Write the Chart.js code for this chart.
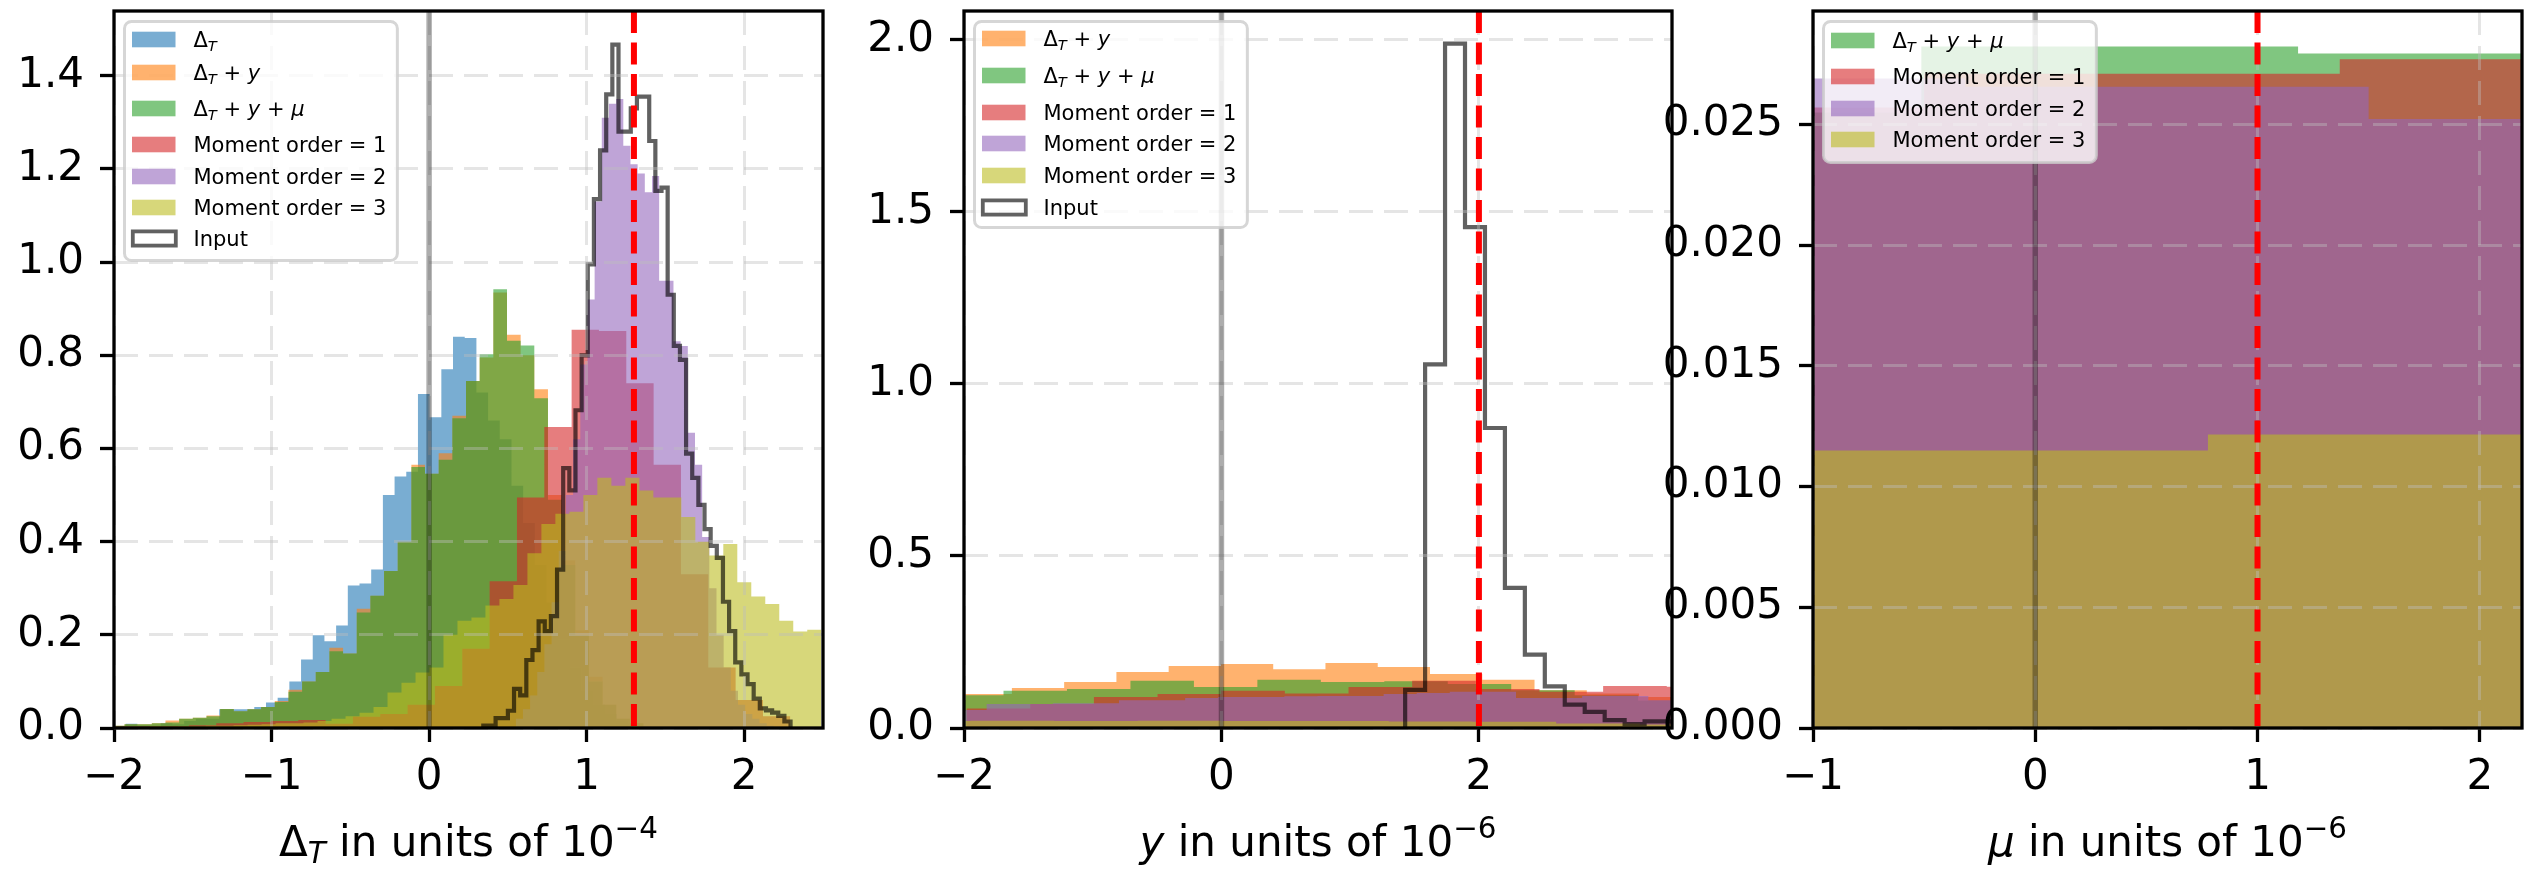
<!DOCTYPE html>
<html>
<head>
<meta charset="utf-8">
<script src="https://cdn.jsdelivr.net/npm/chart.js@4.4.1/dist/chart.umd.min.js"></script>
<style>
    body { margin: 0; background: #fff; overflow: hidden; }
    #fig { position: relative; width: 2534px; height: 869px; }
    canvas { position: absolute; top: 0; }
</style>
</head>
<body>
<div id="fig">
    <canvas id="c1" width="880" height="869" style="left:0px"></canvas>
    <canvas id="c2" width="860" height="869" style="left:860px"></canvas>
    <canvas id="c3" width="894" height="869" style="left:1640px"></canvas>
</div>
<script>
const FONT = "DejaVu Sans";

// ---------- panel 1 : Delta_T (units of 1e-4) ----------
const p1XTicks = [-2, -1, 0, 1, 2];
const p1YTicks = [0, 0.2, 0.4, 0.6, 0.8, 1.0, 1.2, 1.4];
const p1Truth = 1.3;
// bins are [first edge, bin width]
const p1BlueBins = [-2.0, 0.0742];
const p1Blue = [0.003, 0.009, 0.005, 0.005, 0.010, 0.008, 0.015, 0.020, 0.020, 0.040,
    0.040, 0.040, 0.045, 0.055, 0.065, 0.100, 0.147, 0.199, 0.186, 0.220,
    0.306, 0.310, 0.340, 0.500, 0.540, 0.550, 0.717, 0.667, 0.770, 0.840,
    0.837, 0.720, 0.660, 0.620, 0.520, 0.440, 0.350, 0.270, 0.190, 0.130,
    0.080, 0.050, 0.030, 0.015, 0.008, 0.004];
const p1OrangeBins = [-2.02, 0.0867];
const p1Orange = [0.005, 0.008, 0.008, 0.010, 0.016, 0.020, 0.022, 0.027, 0.041, 0.036,
    0.040, 0.045, 0.058, 0.082, 0.100, 0.120, 0.172, 0.160, 0.256, 0.284,
    0.337, 0.400, 0.565, 0.546, 0.590, 0.670, 0.745, 0.795, 0.935, 0.844,
    0.800, 0.727, 0.500, 0.360, 0.210, 0.110, 0.050, 0.020, 0.010];
const p1GreenBins = [-2.02, 0.0867];
const p1Green = [0.005, 0.008, 0.008, 0.010, 0.012, 0.020, 0.022, 0.025, 0.041, 0.036,
    0.040, 0.045, 0.056, 0.078, 0.100, 0.120, 0.165, 0.160, 0.248, 0.284,
    0.337, 0.400, 0.560, 0.546, 0.576, 0.665, 0.745, 0.802, 0.942, 0.831,
    0.821, 0.708, 0.490, 0.350, 0.200, 0.100, 0.050, 0.020, 0.010];
const p1RedBins = [-2.045, 0.1735];
const p1Red = [0.003, 0.003, 0.004, 0.006, 0.010, 0.013, 0.015, 0.017, 0.009, 0.024,
    0.030, 0.050, 0.090, 0.170, 0.315, 0.495, 0.646, 0.855, 0.852, 0.740,
    0.565, 0.330, 0.130, 0.060, 0.025];
const p1PurpleBins = [0.55, 0.0455];
const p1Purple = [0.020, 0.040, 0.070, 0.120, 0.180, 0.270, 0.380, 0.500, 0.620, 0.780,
    0.920, 1.130, 1.310, 1.340, 1.350, 1.250, 1.210, 1.190, 1.150, 1.185,
    0.960, 0.960, 0.830, 0.820, 0.634, 0.565, 0.410, 0.300, 0.200, 0.130,
    0.080, 0.050, 0.030, 0.020, 0.010, 0.005];
const p1OliveBins = [-2.04, 0.0888];
const p1Olive = [0.002, 0.002, 0.002, 0.003, 0.003, 0.004, 0.004, 0.005, 0.005, 0.006,
    0.007, 0.008, 0.010, 0.010, 0.012, 0.015, 0.020, 0.025, 0.033, 0.045,
    0.076, 0.097, 0.119, 0.130, 0.200, 0.230, 0.237, 0.263, 0.277, 0.307,
    0.375, 0.438, 0.460, 0.464, 0.500, 0.537, 0.520, 0.537, 0.510, 0.495,
    0.495, 0.453, 0.400, 0.370, 0.395, 0.313, 0.282, 0.266, 0.230, 0.207,
    0.211];
const p1InputBins = [0.344, 0.039];
const p1Input = [0.005, 0.005, 0.021, 0.021, 0.037, 0.084, 0.070, 0.146, 0.167, 0.229,
    0.208, 0.240, 0.340, 0.558, 0.510, 0.682, 0.800, 0.995, 1.135, 1.240,
    1.360, 1.467, 1.280, 1.280, 1.330, 1.355, 1.355, 1.260, 1.153, 1.160,
    0.930, 0.820, 0.790, 0.589, 0.537, 0.479, 0.427, 0.391, 0.365, 0.271,
    0.208, 0.141, 0.115, 0.094, 0.063, 0.042, 0.038, 0.033, 0.026, 0.014];

// ---------- panel 2 : y (units of 1e-6) ----------
const p2XTicks = [-2, 0, 2];
const p2YTicks = [0, 0.5, 1.0, 1.5, 2.0];
const p2Truth = 2;
const p2OrangeBins = [-2.034, 0.406];
const p2Orange = [0.099, 0.116, 0.134, 0.163, 0.180, 0.186, 0.171, 0.189, 0.177, 0.157, 0.140, 0.110, 0.100, 0.090];
const p2GreenBins = [-2.186, 0.493];
const p2Green = [0.095, 0.108, 0.113, 0.137, 0.119, 0.140, 0.134, 0.136, 0.128, 0.110, 0.095, 0.080];
const p2RedBins = [-1.98, 0.4945];
const p2Red = [0.057, 0.070, 0.090, 0.099, 0.108, 0.100, 0.119, 0.137, 0.113, 0.105, 0.122, 0.120];
const p2PurpleBins = [-2.081, 0.257];
const p2Purple = [0.052, 0.070, 0.070, 0.072, 0.072, 0.081, 0.081, 0.087, 0.090, 0.090, 0.092,
    0.093, 0.093, 0.099, 0.102, 0.105, 0.105, 0.087, 0.087, 0.093, 0.093, 0.081];
const p2OliveBins = [-2.6, 0.65];
const p2Olive = [0.020, 0.021, 0.020, 0.021, 0.020, 0.020, 0.019, 0.018, 0.013, 0.010];
const p2InputBins = [1.427, 0.155];
const p2Input = [0.111, 1.057, 1.989, 1.456, 0.872, 0.407, 0.213, 0.121, 0.068, 0.047, 0.023, 0.011, 0.019, 0.019];

// ---------- panel 3 : mu (units of 1e-6) ----------
const p3XTicks = [-1, 0, 1, 2];
const p3YTicks = [0, 0.005, 0.010, 0.015, 0.020, 0.025];
const p3Truth = 1;
const p3GreenBins = [-1.36, 0.8475];
const p3Green = [0.0255, 0.02823, 0.02823, 0.02794, 0.02794];
const p3RedBins = [-1.435, 0.935];
const p3Red = [0.0257, 0.0271, 0.0271, 0.0277];
const p3PurpleBins = [-1.2225, 0.9075];
const p3Purple = [0.0269, 0.02656, 0.02656, 0.02523];
const p3OliveBins = [-1.1, 1.877];
const p3Olive = [0.01149, 0.01216];

const COL = {
    blue: "rgba(31,119,180,0.6)",
    orange: "rgba(255,127,14,0.6)",
    green: "rgba(44,160,44,0.6)",
    red: "rgba(214,39,40,0.6)",
    purple: "rgba(148,103,189,0.6)",
    olive: "rgba(188,189,34,0.6)",
    input: "rgba(0,0,0,0.62)"
};
const GRID = "rgba(190,190,190,0.4)";

// legend labels as [text, kind]: "" upright, "i" italic, "s" subscript, "p" superscript
const L_DT = [["\u0394", ""], ["T", "s"]];
const L_DTY = [["\u0394", ""], ["T", "s"], [" + ", ""], ["y", "i"]];
const L_DTYM = [["\u0394", ""], ["T", "s"], [" + ", ""], ["y", "i"], [" + ", ""], ["\u03bc", "i"]];
const L_M1 = [["Moment order = 1", ""]];
const L_M2 = [["Moment order = 2", ""]];
const L_M3 = [["Moment order = 3", ""]];
const L_IN = [["Input", ""]];

function stepPoints(bins, heights) {
    const start = bins[0], w = bins[1];
    const pts = [{ x: start, y: 0 }];
    heights.forEach((h, i) => pts.push({ x: start + i * w, y: h }));
    pts.push({ x: start + heights.length * w, y: 0 });
    return pts;
}

function fillSet(bins, heights, color) {
    return {
        data: stepPoints(bins, heights),
        stepped: "before",
        fill: "origin",
        backgroundColor: color,
        borderColor: "rgba(0,0,0,0)",
        borderWidth: 0,
        pointRadius: 0
    };
}

function outlineSet(bins, heights) {
    return {
        data: stepPoints(bins, heights),
        stepped: "before",
        fill: false,
        borderColor: COL.input,
        borderWidth: 4.2,
        borderJoinStyle: "miter",
        pointRadius: 0
    };
}

function fmtTick(v, dec) {
    return (v < 0 ? "\u2212" : "") + Math.abs(v).toFixed(dec);
}

function mathFont(kind, size) {
    return (kind === "i" || kind === "s" ? "italic " : "") + size + "px '" + FONT + "'";
}

function measureMath(ctx, parts, size) {
    let total = 0;
    parts.forEach(p => {
        ctx.font = mathFont(p[1], (p[1] === "s" || p[1] === "p") ? size * 0.7 : size);
        total += ctx.measureText(p[0]).width;
    });
    return total;
}

function drawMath(ctx, parts, x, y, size, align) {
    const total = measureMath(ctx, parts, size);
    let cx = align === "center" ? x - total / 2 : x;
    ctx.textAlign = "left";
    ctx.textBaseline = "alphabetic";
    parts.forEach(p => {
        const small = p[1] === "s" || p[1] === "p";
        ctx.font = mathFont(p[1], small ? size * 0.7 : size);
        const dy = p[1] === "s" ? 0.17 * size : (p[1] === "p" ? -0.42 * size : 0);
        ctx.fillText(p[0], cx, y + dy);
        cx += ctx.measureText(p[0]).width;
    });
}

function drawLegend(ctx, left, top, items, rows, height) {
    const w = 69 + Math.max(...items.map(it => measureMath(ctx, it.label, 21))) + 11;
    ctx.beginPath();
    ctx.roundRect(left, top, w, height, 7);
    ctx.fillStyle = "rgba(255,255,255,0.8)";
    ctx.fill();
    ctx.setLineDash([]);
    ctx.lineWidth = 3;
    ctx.strokeStyle = "rgba(204,204,204,0.8)";
    ctx.stroke();
    items.forEach((it, i) => {
        const cy = top + rows[i];
        if (it.outline) {
            ctx.strokeStyle = COL.input;
            ctx.lineWidth = 3.8;
            ctx.strokeRect(left + 8.3, cy - 7.1, 43, 14.2);
        } else {
            ctx.fillStyle = it.color;
            ctx.fillRect(left + 7.5, cy - 7.8, 43.5, 15.6);
        }
        ctx.fillStyle = "#000";
        drawMath(ctx, it.label, left + 69, cy + 7.5, 21, "left");
    });
}

function vline(ctx, px, a, color, width, dash) {
    ctx.beginPath();
    ctx.setLineDash(dash);
    ctx.strokeStyle = color;
    ctx.lineWidth = width;
    ctx.moveTo(px, a.top);
    ctx.lineTo(px, a.bottom);
    ctx.stroke();
}

function makeDecor(p) {
    return {
        id: "decor",
        afterDraw(chart) {
            const { ctx, chartArea: a } = chart;
            const x = chart.scales.x;
            ctx.save();
            vline(ctx, x.getPixelForValue(0), a, "rgba(0,0,0,0.32)", 5.5, []);
            vline(ctx, x.getPixelForValue(p.truth), a, "#ff0000", 6, [22, 9.5]);
            ctx.setLineDash([]);
            ctx.strokeStyle = "#000";
            ctx.lineWidth = 3.3;
            ctx.strokeRect(a.left, a.top, a.right - a.left, a.bottom - a.top);
            drawLegend(ctx, a.left + 10.5, a.top + 10.5, p.legend, p.rows, p.legendH);
            ctx.fillStyle = "#000";
            drawMath(ctx, p.xlabel, (a.left + a.right) / 2, 856, 42, "center");
            ctx.restore();
        }
    };
}

function axis(min, max, ticks, dec, isX, size) {
    return {
        type: "linear",
        min: min,
        max: max,
        afterBuildTicks: s => { s.ticks = ticks.map(v => ({ value: v })); },
        afterFit: s => {
            if (isX) s.height = size; else s.width = size;
            s.paddingLeft = 0; s.paddingRight = 0; s.paddingTop = 0; s.paddingBottom = 0;
        },
        grid: { color: GRID, lineWidth: 3, z: 1, drawTicks: true, tickLength: 14, tickWidth: 3.3, tickColor: "#000" },
        border: { display: false, dash: [24, 11] },
        ticks: {
            autoSkip: false,
            maxRotation: 0,
            padding: isX ? 11 : 16,
            color: "#000",
            font: { family: FONT, size: 42 },
            callback: v => fmtTick(v, dec)
        }
    };
}

function makePanel(id, p) {
    const ctx = document.getElementById(id).getContext("2d");
    const n = p.sets.length;
    p.sets.forEach((s, i) => { s.order = n - i; });
    return new Chart(ctx, {
        type: "line",
        data: { datasets: p.sets },
        options: {
            responsive: false,
            animation: false,
            devicePixelRatio: 1,
            layout: { padding: { left: 0, right: p.padRight, top: 11, bottom: 0 } },
            plugins: { legend: { display: false }, tooltip: { enabled: false } },
            elements: { point: { radius: 0 }, line: { tension: 0 } },
            scales: {
                x: axis(p.xr[0], p.xr[1], p.xTicks, 0, true, 141),
                y: axis(0, p.ymax, p.yTicks, p.yDec, false, p.yWidth)
            }
        },
        plugins: [makeDecor(p)]
    });
}

makePanel("c1", {
    xr: [-2, 2.5], ymax: 1.539, xTicks: p1XTicks, yTicks: p1YTicks, yDec: 1,
    yWidth: 114, padRight: 57, truth: p1Truth,
    sets: [
        fillSet(p1BlueBins, p1Blue, COL.blue),
        fillSet(p1OrangeBins, p1Orange, COL.orange),
        fillSet(p1GreenBins, p1Green, COL.green),
        fillSet(p1RedBins, p1Red, COL.red),
        fillSet(p1PurpleBins, p1Purple, COL.purple),
        fillSet(p1OliveBins, p1Olive, COL.olive),
        outlineSet(p1InputBins, p1Input)
    ],
    legend: [
        { label: L_DT, color: COL.blue },
        { label: L_DTY, color: COL.orange },
        { label: L_DTYM, color: COL.green },
        { label: L_M1, color: COL.red },
        { label: L_M2, color: COL.purple },
        { label: L_M3, color: COL.olive },
        { label: L_IN, outline: true }
    ],
    rows: [18, 51, 87, 123, 155, 186, 217], legendH: 239,
    xlabel: [["\u0394", ""], ["T", "s"], [" in units of 10", ""], ["\u22124", "p"]]
});

makePanel("c2", {
    xr: [-2, 3.5], ymax: 2.084, xTicks: p2XTicks, yTicks: p2YTicks, yDec: 1,
    yWidth: 104, padRight: 48, truth: p2Truth,
    sets: [
        fillSet(p2OrangeBins, p2Orange, COL.orange),
        fillSet(p2GreenBins, p2Green, COL.green),
        fillSet(p2RedBins, p2Red, COL.red),
        fillSet(p2PurpleBins, p2Purple, COL.purple),
        fillSet(p2OliveBins, p2Olive, COL.olive),
        outlineSet(p2InputBins, p2Input)
    ],
    legend: [
        { label: L_DTY, color: COL.orange },
        { label: L_DTYM, color: COL.green },
        { label: L_M1, color: COL.red },
        { label: L_M2, color: COL.purple },
        { label: L_M3, color: COL.olive },
        { label: L_IN, outline: true }
    ],
    rows: [17, 54, 91, 122, 154, 186], legendH: 206,
    xlabel: [["y", "i"], [" in units of 10", ""], ["\u22126", "p"]]
});

makePanel("c3", {
    xr: [-1, 2.19], ymax: 0.0297, xTicks: p3XTicks, yTicks: p3YTicks, yDec: 3,
    yWidth: 173, padRight: 12, truth: p3Truth,
    sets: [
        fillSet(p3GreenBins, p3Green, COL.green),
        fillSet(p3RedBins, p3Red, COL.red),
        fillSet(p3PurpleBins, p3Purple, COL.purple),
        fillSet(p3OliveBins, p3Olive, COL.olive)
    ],
    legend: [
        { label: L_DTYM, color: COL.green },
        { label: L_M1, color: COL.red },
        { label: L_M2, color: COL.purple },
        { label: L_M3, color: COL.olive }
    ],
    rows: [19, 55, 87, 118], legendH: 141,
    xlabel: [["\u03bc", "i"], [" in units of 10", ""], ["\u22126", "p"]]
});
</script>
</body>
</html>
